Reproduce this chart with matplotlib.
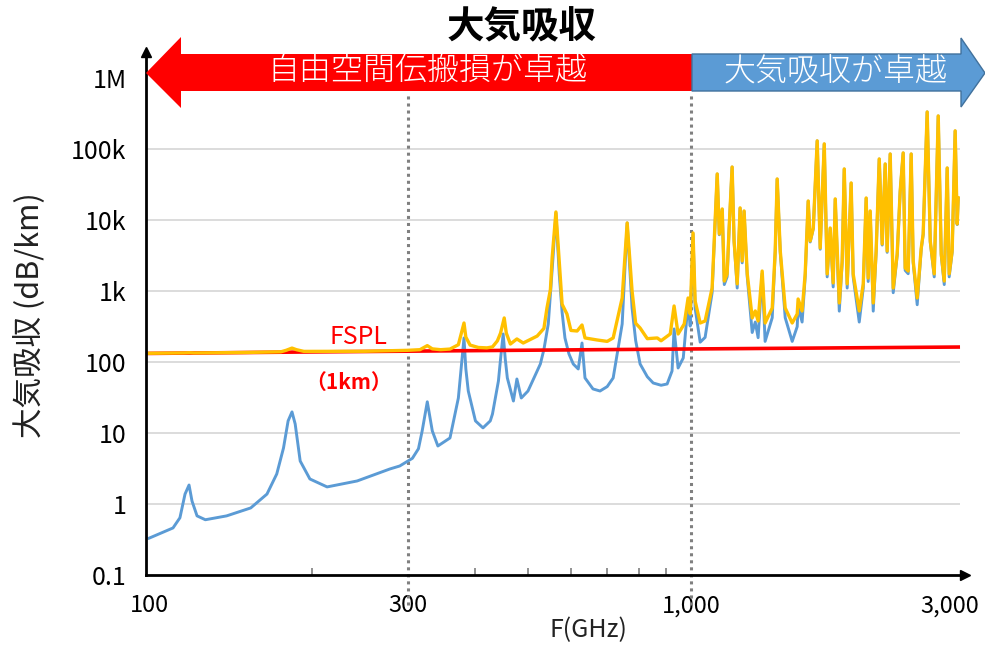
import matplotlib
matplotlib.use("Agg")
import matplotlib.pyplot as plt
from matplotlib.patches import Polygon
from matplotlib.ticker import NullFormatter, NullLocator

plt.rcParams['font.family'] = ['Noto Sans CJK JP', 'DejaVu Sans']

# ---- data -------------------------------------------------------------
# Atmospheric absorption below 1 THz (GHz, dB/km)
absorption_freq_low = [100, 110.7, 114, 116.5, 118.5, 120, 122.6, 127, 139, 154,
                       165, 172, 177, 180.5, 183.5, 186, 190, 198, 213, 242,
                       278, 290, 306, 314, 319, 326, 333, 341, 359, 372,
                       381, 384, 388, 400, 413, 426, 430, 441, 445, 450,
                       454, 458, 470, 477, 486, 500, 527, 535, 545, 550,
                       556, 563, 571, 578, 585, 595, 606, 619, 629, 637,
                       659, 679, 700, 718, 746, 762, 778, 790, 805, 830,
                       851, 880, 903, 922, 930, 946, 967, 987, 996, 1008,
                       1017, 1039]
absorption_db_low = [0.33, 0.46, 0.64, 1.38, 1.85, 1.10, 0.68, 0.60, 0.68, 0.88,
                     1.38, 2.65, 6.15, 14.8, 19.8, 13.4, 4.03, 2.25, 1.74, 2.11,
                     3.11, 3.43, 4.4, 6.0, 10.7, 27.5, 10.7, 6.56, 8.51, 31.1,
                     218, 80, 39.0, 14.8, 11.8, 14.8, 18.5, 54.0, 110, 248,
                     110, 59.6, 28.2, 57.6, 31.1, 39.0, 93.7, 150, 343, 900,
                     2920, 12560, 1735, 500, 218, 130, 93.7, 79.7, 185, 59.6,
                     41.7, 39.0, 45, 59.6, 343, 9080, 576, 200, 93.7, 62,
                     50.6, 47, 49.0, 74.7, 292, 82.3, 114, 680, 320, 6350,
                     570, 190]

# Total loss over 1 km (FSPL + absorption) below 1 THz (GHz, dB)
total_freq_low = [100, 116, 118.7, 121, 150, 175, 179, 183.5, 187, 193,
                  250, 300, 316, 326, 333, 345, 359, 372, 381, 384,
                  391, 405, 420, 430, 439, 445, 452, 456, 464, 477,
                  490, 520, 535, 542, 550, 554, 563, 573, 578, 590,
                  600, 616, 629, 637, 671, 700, 718, 746, 762, 778,
                  790, 805, 830, 866, 880, 915, 930, 946, 971, 987,
                  996, 1008, 1017, 1039]
total_db_low = [132.5, 134, 135, 134, 136, 139, 146, 157, 149, 141,
                141.5, 146, 149, 170, 153, 149, 152, 175, 354, 224,
                173, 160, 158, 163, 198, 255, 417, 255, 179, 211,
                185, 232, 297, 576, 1050, 2917, 12970, 1735, 650, 474,
                278, 273, 332, 218, 204, 195, 218, 797, 9078, 1000,
                351, 301, 213, 218, 199, 248, 615, 248, 343, 797,
                474, 6560, 723, 354]

# Terahertz band (GHz) with absorption (dB/km) and total loss (dB)
thz_freq = [1061, 1093, 1117, 1127, 1141, 1151, 1165, 1175, 1190, 1200,
            1216, 1231, 1242, 1252, 1269, 1296, 1313, 1329, 1352, 1369,
            1411, 1429, 1441, 1460, 1491, 1536, 1569, 1575, 1602, 1623,
            1644, 1658, 1680, 1708, 1730, 1760, 1782, 1805, 1828, 1844,
            1876, 1899, 1916, 1940, 1973, 1990, 2042, 2077, 2103, 2121,
            2139, 2167, 2194, 2223, 2251, 2280, 2299, 2329, 2359, 2399,
            2430, 2461, 2482, 2514, 2546, 2568, 2612, 2657, 2679, 2725,
            2761, 2808, 2856, 2893, 2930, 2967, 2992, 3030, 3069, 3096,
            3109]
thz_absorption_db = [222, 945, 44300, 6190, 14100, 1230, 1580, 7550, 55600, 4900,
                     1100, 14600, 2490, 13200, 1580, 260, 365, 220, 1760, 195,
                     420, 3500, 37600, 3500, 420, 195, 315, 610, 365, 1580,
                     18400, 4900, 7550, 130000, 3870, 117000, 1580, 7550, 1140, 19600,
                     520, 2490, 52100, 1100, 33000, 1580, 365, 1100, 20200, 1360,
                     13200, 520, 3500, 72100, 4430, 61300, 3500, 84900, 945, 3160,
                     25400, 87700, 1950, 1750, 84900, 2490, 640, 3870, 6190, 332000,
                     4900, 1580, 291000, 3160, 1230, 53800, 1580, 3500, 179000, 8620,
                     20200]
thz_total_db = [378, 1100, 44500, 6350, 14300, 1380, 1740, 7710, 55700, 5060,
                1260, 14800, 2650, 13400, 1740, 417, 523, 378, 1910, 354,
                576, 3660, 37800, 3660, 576, 354, 474, 771, 523, 1740,
                18500, 5060, 7710, 130000, 4030, 118000, 1740, 7710, 1300, 19800,
                678, 2650, 52300, 1260, 33200, 1740, 523, 1260, 20400, 1520,
                13400, 678, 3660, 72300, 4590, 61500, 3660, 85000, 1100, 3320,
                25600, 87900, 2110, 1910, 85000, 2650, 797, 4030, 6350, 332000,
                5060, 1740, 292000, 3320, 1380, 54000, 1740, 3660, 180000, 8780,
                20400]

# Free-space path loss over 1 km (GHz, dB)
fspl_freq = [100, 200, 300, 500, 1000, 2000, 3109]
fspl_db = [132, 138.5, 142, 146.5, 152.5, 158.5, 162.3]

x_ticks = [100, 300, 1000, 3000]
x_tick_labels = ['100', '300', '1,000', '3,000']
x_minor_ticks = [200, 400, 500, 600, 700, 800, 900]
y_ticks = [0.1, 1, 10, 100, 1e3, 1e4, 1e5, 1e6]
y_tick_labels = ['0.1', '1', '10', '100', '1k', '10k', '100k', '1M']
grid_levels = [1, 10, 100, 1e3, 1e4, 1e5]
region_bounds = [300, 1000]

absorption_freq = absorption_freq_low + thz_freq
absorption_db = absorption_db_low + thz_absorption_db
total_freq = total_freq_low + thz_freq
total_db = total_db_low + thz_total_db

# ---- figure -----------------------------------------------------------
W, H = 985, 646
fig = plt.figure(figsize=(W / 100, H / 100), dpi=100)
ax_left, ax_right, ax_top, ax_bottom = 146, 965, 52, 575
ax = fig.add_axes([ax_left / W, (H - ax_bottom) / H,
                   (ax_right - ax_left) / W, (ax_bottom - ax_top) / H])
ax.set_xscale('log')
ax.set_yscale('log')
ax.set_xlim(98.7, 3200)
ax.set_ylim(0.1, 2.32e6)
ax.patch.set_alpha(0)

ax.hlines(grid_levels, 98.7, 3133, colors='#D9D9D9', lw=1.3, zorder=1)

for b in region_bounds:
    ax.axvline(b, ymin=(ax_bottom - 605) / (ax_bottom - ax_top),
               ymax=(ax_bottom - 92) / (ax_bottom - ax_top),
               color='#808080', lw=2.2, ls=(0, (1, 1.3)), clip_on=False, zorder=2)

ax.plot(absorption_freq, absorption_db, color='#5B9BD5', lw=2.1, zorder=3,
        solid_joinstyle='round')
ax.plot(fspl_freq, fspl_db, color='#FF0000', lw=2.6, zorder=4)
ax.plot(total_freq, total_db, color='#FFC000', lw=2.4, zorder=5,
        solid_joinstyle='round')

for side in ('top', 'right'):
    ax.spines[side].set_visible(False)
for side in ('left', 'bottom'):
    ax.spines[side].set_linewidth(2.0)
    ax.spines[side].set_color('black')
    ax.spines[side].set_zorder(6)
ax.plot([0], [1], marker='^', ms=7, color='black', transform=ax.transAxes,
        clip_on=False, zorder=7)
ax.plot([1], [0], marker='>', ms=7, color='black', transform=ax.transAxes,
        clip_on=False, zorder=7)

ax.set_xticks(x_ticks)
ax.set_xticklabels(x_tick_labels)
ax.set_xticks(x_minor_ticks, minor=True)
ax.xaxis.set_minor_formatter(NullFormatter())
ax.set_yticks(y_ticks)
ax.set_yticklabels(y_tick_labels)
ax.yaxis.set_minor_locator(NullLocator())
ax.tick_params(axis='x', which='major', length=0, pad=14, labelsize=17)
ax.tick_params(axis='x', which='minor', direction='in', length=5, width=1.2,
               color='#7F7F7F')
ax.tick_params(axis='y', which='major', length=0, pad=14, labelsize=18)

fig.text(30 / W, 1 - 315 / H, '大気吸収 (dB/km)', rotation=90, fontsize=22,
         ha='center', va='center', color='#222222')
fig.text(588 / W, 1 - 630 / H, 'F(GHz)', fontsize=18, ha='center', va='center',
         color='#222222')
fig.text(522 / W, 1 - 27 / H, '大気吸収', fontsize=27, fontweight='bold',
         ha='center', va='center')
fig.text(358 / W, 1 - 337 / H, 'FSPL', fontsize=18, color='#FF0000',
         ha='center', va='center')
fig.text(349 / W, 1 - 382 / H, '（1km）', fontsize=15, fontweight='bold',
         color='#FF0000', ha='center', va='center')

# ---- region arrows ----------------------------------------------------
ov = fig.add_axes([0, 0, 1, 1], zorder=10)
ov.set_xlim(0, W)
ov.set_ylim(H, 0)
ov.axis('off')
ov.patch.set_alpha(0)

red_arrow = [(146, 73), (181, 37), (181, 54), (692, 54), (692, 91),
             (181, 91), (181, 108)]
blue_arrow = [(692, 54), (961, 54), (961, 38), (985, 73), (961, 107),
              (961, 91), (692, 91)]
ov.add_patch(Polygon(red_arrow, closed=True, facecolor='#FF0000',
                     edgecolor='none'))
ov.add_patch(Polygon(blue_arrow, closed=True, facecolor='#5B9BD5',
                     edgecolor='#41719C', lw=1.0))
ov.text(427, 72, '自由空間伝搬損が卓越', fontsize=23, color='white',
        fontweight='light', ha='center', va='center')
ov.text(836, 72, '大気吸収が卓越', fontsize=23, color='white',
        fontweight='light', ha='center', va='center')

fig.savefig('out.png', dpi=100)
